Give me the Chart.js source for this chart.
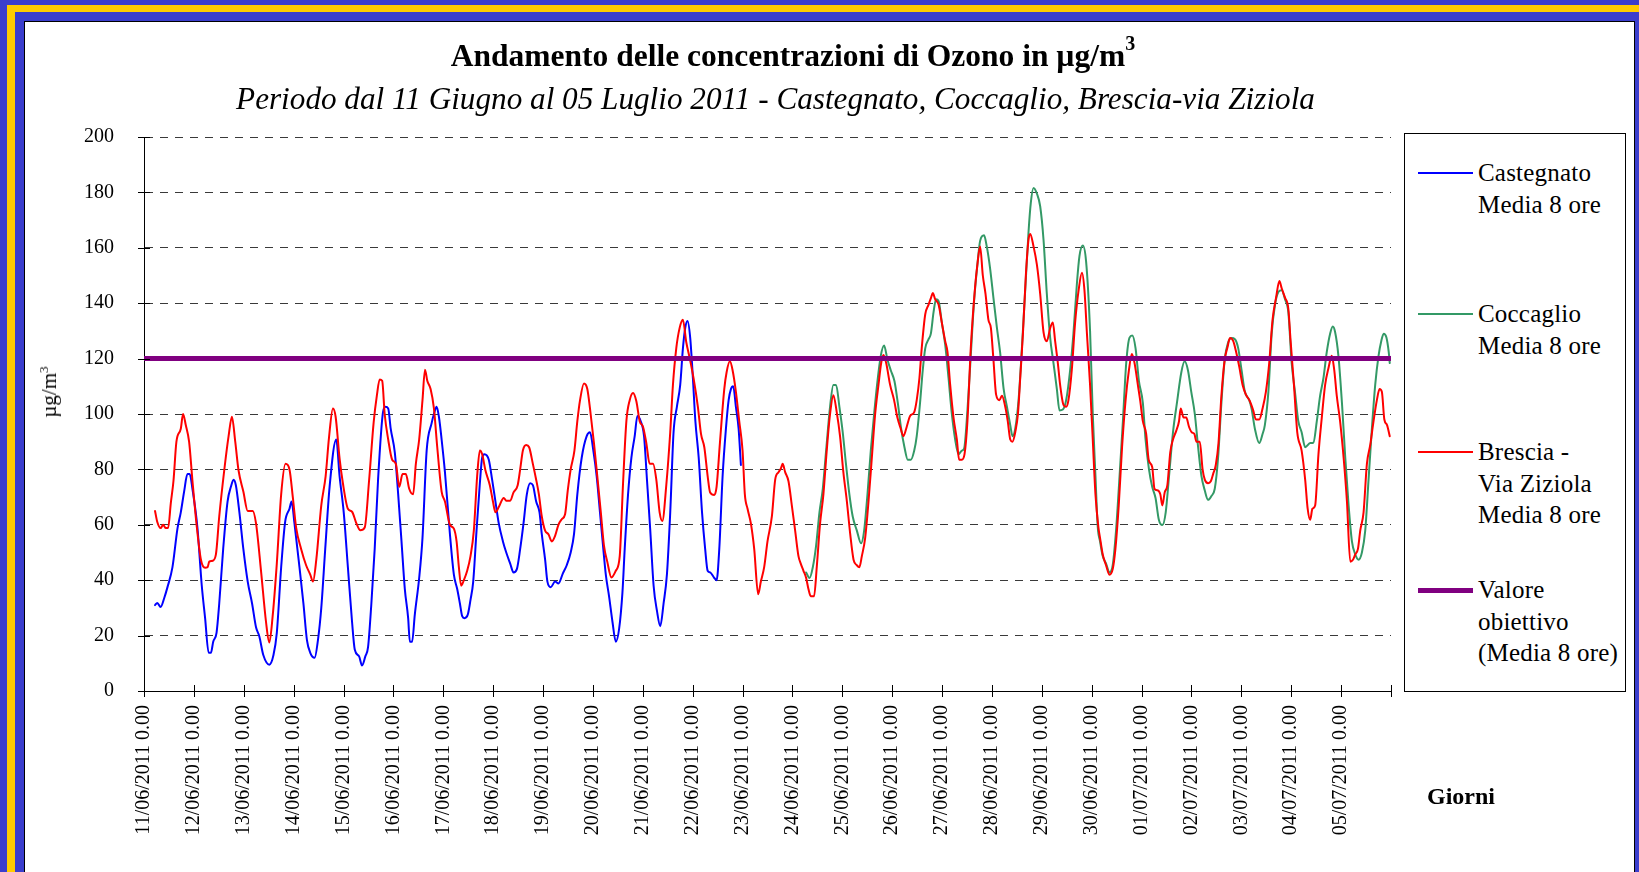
<!DOCTYPE html>
<html lang="it">
<head>
<meta charset="utf-8">
<title>Andamento delle concentrazioni di Ozono</title>
<script src="https://cdn.jsdelivr.net/npm/chart.js@4.4.1/dist/chart.umd.min.js"></script>
<style>
  html, body { margin: 0; padding: 0; }
  body {
    width: 1639px; height: 872px; overflow: hidden; position: relative;
    background: #3b3ecd;
    font-family: "Liberation Serif", "Times New Roman", serif;
    color: #000;
  }
  .cornice { position: absolute; left: 7px; top: 5px; width: 1700px; height: 900px; background: #ffcc00; }
  .cornice2 { position: absolute; left: 15px; top: 12px; width: 1700px; height: 900px; background: #3b3ecd; }
  .foglio { position: absolute; left: 24px; top: 21px; width: 1609px; height: 900px; background: #fff; border: 1px solid #000; }
  #grafico { position: absolute; left: 0; top: 0; }
  .titolo { position: absolute; left: 0; width: 1586px; top: 28px; text-align: center; font-size: 31.5px; font-weight: bold; line-height: 38px; white-space: nowrap; }
  .titolo sup { font-size: 20px; position: relative; top: -4px; }
  .sottotitolo { position: absolute; left: 0; width: 1551px; top: 81px; text-align: center; font-size: 31.2px; font-style: italic; line-height: 36px; white-space: nowrap; }
  .asseY { position: absolute; left: 49px; top: 392px; transform: translate(-50%, -50%) rotate(-90deg); font-size: 21px; white-space: nowrap; }
  .asseY sup { font-size: 13px; }
  .giorni { position: absolute; left: 1461px; top: 796px; transform: translate(-50%, -50%); font-size: 24px; font-weight: bold; }
  .legenda { position: absolute; left: 1404px; top: 133px; width: 220px; height: 557px; border: 1px solid #000; background: #fff; }
  .voce { position: absolute; left: 0; }
  .campione { position: absolute; left: 13px; width: 55px; }
  .testo { position: absolute; left: 73px; font-size: 25px; line-height: 31.3px; white-space: nowrap; letter-spacing: 0.2px; }
</style>
</head>
<body>
<div class="cornice"></div>
<div class="cornice2"></div>
<div class="foglio"></div>
<canvas id="grafico" width="1639" height="872"></canvas>
<div class="titolo">Andamento delle concentrazioni di Ozono in µg/m<sup>3</sup></div>
<div class="sottotitolo">Periodo dal 11 Giugno al 05 Luglio 2011 - Castegnato, Coccaglio, Brescia-via Ziziola</div>
<div class="asseY">µg/m<sup>3</sup></div>
<div class="giorni">Giorni</div>
<div class="legenda" id="legenda"></div>
<script>
// etichette dei giorni (una ogni 24 ore)
const etichetteGiorni = [
  '11/06/2011 0.00', '12/06/2011 0.00', '13/06/2011 0.00', '14/06/2011 0.00', '15/06/2011 0.00',
  '16/06/2011 0.00', '17/06/2011 0.00', '18/06/2011 0.00', '19/06/2011 0.00', '20/06/2011 0.00',
  '21/06/2011 0.00', '22/06/2011 0.00', '23/06/2011 0.00', '24/06/2011 0.00', '25/06/2011 0.00',
  '26/06/2011 0.00', '27/06/2011 0.00', '28/06/2011 0.00', '29/06/2011 0.00', '30/06/2011 0.00',
  '01/07/2011 0.00', '02/07/2011 0.00', '03/07/2011 0.00', '04/07/2011 0.00', '05/07/2011 0.00'
];
const oreTotali = 600;

// media 8 ore, coppie [ora dall'inizio, µg/m3]
const castegnato = [
  [5.3,31],[6.4,31.8],[8,30.3],[9.7,33.5],[11.3,37.5],[13.7,44.7],[16.1,58.6],[17.7,64.5],[19.3,72],[20.9,78.3],
  [22,78.3],[23.3,73],[25.7,59],[27.8,38],[29.4,26.3],[31.1,13.8],[32.2,13.8],[33.3,17.8],[34.9,21],[36.2,31.6],
  [38.1,51.3],[40.2,68.4],[41.8,73.7],[43.1,76.3],[44.2,74.3],[45.9,64.5],[47.8,51.3],[49.9,39.5],[52,31.6],[53.9,23],
  [55.5,19.7],[57.4,13],[60.3,9.5],[62.3,13],[63.9,21],[66,44.7],[67.9,61],[70,65.8],[71,68.4],[72.4,60.5],
  [74.8,44.7],[76.7,31.6],[78.4,18.4],[80,13.8],[82.1,12],[83.7,18.4],[85.3,30],[87.2,51.3],[89.3,73.7],[92.5,90.8],
  [94.1,77.6],[96.1,64.5],[98.1,44.7],[100.1,25],[101.4,15],[103.5,12.5],[104.9,9.2],[106.5,12.5],[107.8,15.8],[109.4,31.6],
  [111,51.3],[112.6,76],[115,100.7],[116.2,102.6],[117.5,102],[118.7,94.7],[120.7,86],[122.3,71],[123.9,54],[125.5,36.8],
  [127.1,26.3],[127.9,17.8],[129,17.8],[130.3,27.6],[132.4,40.8],[134,55.3],[136,86.8],[138.4,96.7],[139.5,100],[140.8,102.6],
  [141.9,99],[143.2,90.8],[144.8,79],[147.2,56.6],[149.1,42],[150.7,36.8],[152,31.6],[153.1,27],[154.2,26.3],[155.8,27.6],
  [157.1,32.9],[158.4,39.5],[160,57.9],[161.6,75],[162.7,84.2],[163.8,85.5],[165.9,83.5],[167.5,76.3],[169.1,68.4],[170.7,60.5],
  [172.7,54],[174.3,50],[176.2,46],[177.8,42.8],[179.4,44],[181,51.3],[182.6,60.5],[184.2,71],[185.8,75],[187.1,74.3],
  [188.7,68.4],[190.3,64.5],[191.4,56.6],[193,47.4],[194.1,39.5],[195.7,37.5],[197.8,39.5],[199.4,38.8],[201.5,42.4],[203.4,45.4],
  [205.3,50],[206.9,56.6],[208.5,71],[210.6,84.2],[213,92],[214.6,93.4],[216.2,86.8],[217.8,77.6],[219.4,64.5],[221,51.3],
  [222.2,42],[223.8,34],[225.4,25],[227,17.8],[228.6,22.4],[230.2,35.5],[231.3,51.3],[232.9,71],[234.5,84.2],[236.1,92],
  [237.4,99.3],[239,97.4],[240.6,92],[242,76.3],[243.6,57.9],[245.2,38],[246.8,29],[248.4,23.4],[250,31.6],[251.6,42],
  [253.2,64.5],[254.8,93.4],[256.4,102.6],[258,110.5],[259.3,123.7],[260.4,131],[261.5,133.6],[262.8,127.6],[264.1,113],[265.3,97.4],
  [266.9,84.2],[268.5,64.5],[270,51.3],[271.2,43.4],[272.4,42.8],[274.4,40.8],[275.5,40],[276.8,51.3],[278.4,77.6],[280,94.7],
  [281.3,105],[282.4,109],[283.5,110],[284.8,102.6],[286.1,94.7],[287.2,81.6]
];

const coccaglio = [
  [318.6,42.8],[320.2,40.8],[321.8,44.7],[323.4,52.6],[325,64.5],[326.6,73],[328.2,86.8],[330.1,102.6],[331.7,110.5],[333,110.5],
  [334.6,102.6],[336.2,93.4],[337.8,81.6],[339.4,71],[341,63],[343,57.9],[345,53.3],[346.5,57.9],[348.1,71],[349.7,86.8],
  [351.3,100],[352.9,111.8],[354.5,121],[356.1,124.7],[357.7,119.7],[359.3,115.8],[361.1,111.8],[362.7,104],[364.3,94.7],[365.9,88],
  [367.5,83.5],[369,83.5],[370.6,86.8],[371.8,92],[373.4,104],[374.7,115.8],[375.9,123.7],[377.5,127],[378.6,129],[379.9,136.8],
  [381.1,141.4],[382.3,140.8],[383.9,132.9],[385.5,125],[387.1,113],[388.7,100],[390.3,90.8],[391.9,85.5],[393.5,86.8],[394.6,87.5],
  [396.2,101.3],[397.8,121],[399.4,140.8],[401,154],[402.3,162.5],[404.2,164.5],[405.5,160.5],[407.1,152.6],[408.7,142],[410.3,131.6],
  [411.9,122.4],[413.6,109.2],[415.2,102.6],[416.8,96],[417.9,92],[419.2,94.7],[420.8,105],[422.4,123.7],[424,144.7],[425.6,165.8],
  [426.7,176.3],[428,181.6],[429.6,179.6],[431.2,175],[432.8,163],[434.4,143.4],[436,127.6],[437.6,118.4],[439.2,109.2],[440.5,101.3],
  [442.1,101.6],[443.7,105],[445.6,115.8],[447.2,129],[448.9,147.4],[450.1,157],[451.7,160.8],[453.3,155],[455.2,130],[456.5,100],
  [457.8,77.6],[458.9,59.2],[460,54],[461.3,48.7],[462.9,46],[464.5,42.8],[466.1,45.4],[467.7,57.9],[469.4,77.6],[471,97.4],
  [472.6,118.4],[474.2,127.6],[475.5,128.3],[477.1,123.7],[478.7,112],[480.6,104],[481.9,90.8],[483.5,80.3],[485.1,73.7],[486.7,69.7],
  [488.3,61.8],[490,59.9],[491.6,64.5],[493.2,77.6],[495.1,93.4],[497,104],[499.1,115],[500.7,119],[502.3,115.8],[503.9,108],
  [505.6,100],[507.2,88],[508.8,77.6],[510.4,72.4],[512,69],[513.6,70.4],[515.2,73],[516.8,84.2],[518.4,104],[520,119.7],
  [521.6,125.7],[523.3,127.4],[524.9,127],[526.5,123.7],[528.1,115.8],[529.7,108],[531.8,105],[532.9,102],[534.5,94.7],[536.6,89.5],
  [538.2,92.8],[539.3,96],[541,108],[542.6,129],[544.2,139.5],[545.8,144],[547.4,144.7],[549,141.4],[550.6,136.8],[552.2,118.4],
  [553.8,108],[555.4,97.4],[557,93.4],[558.7,88],[561.1,89.5],[562.7,89.7],[564.3,97.4],[565.9,106.6],[567.5,113],[569.1,122.4],
  [570.7,129],[572,131.6],[573.1,129.6],[574.7,121],[576.4,104],[578,84.2],[579.6,67],[581.2,54],[582.8,49.3],[584.4,47.4],
  [586,50],[587.6,57.9],[589.2,76.3],[590.8,94.7],[592.4,110.5],[594,121],[595.3,126.3],[596.5,129],[597.8,127.6],[598.9,122.4],
  [599.4,118.4]
];

const brescia = [
  [5.3,65],[6.4,61],[8,58.8],[9.2,60],[10.5,58.8],[11.6,58.8],[12.9,67.8],[14.2,76],[15.6,90],[17.7,94.7],
  [18.8,100],[20.1,96],[21.7,90],[23.3,76],[25.3,60],[27.4,47.4],[29.4,44.5],[30.6,44.7],[31.4,46.7],[33,47],
  [34.6,49.3],[36.2,63],[38.6,79.6],[40.7,92],[42.3,99],[43.9,90],[45.5,79.6],[47.8,72],[49.9,65],[52.3,65],
  [53.9,60.5],[56.3,43.4],[58.7,25],[60.3,17.5],[61.9,27],[63.9,46],[66,71],[68.1,82],[70,80],[71.6,70],
  [73.2,59],[75.6,51.3],[78,45.4],[80,42],[81.3,39.5],[82.9,47.4],[85.3,67],[87.4,77.6],[89,91.4],[90.9,102],
  [92.2,99],[94.1,84],[95.7,75],[98.1,65.8],[100.1,64.7],[102.2,60.5],[104.1,58],[106.2,59],[108.3,76],[110.5,97],
  [112.1,107],[113.4,112.5],[114.6,112],[115.8,100],[117.5,90.8],[119.4,83.5],[121.2,82],[122.8,73.7],[124.4,78.3],[126,78.3],
  [127.6,73],[129.5,71],[130.8,82],[132.4,90.8],[134,105],[135.2,116],[136.3,112],[137.9,109],[139.5,102],[141.1,88],
  [143.2,72],[144.8,68.4],[147.2,60],[149.1,58.6],[150.4,54],[151.5,44.7],[152.6,38],[153.9,40],[155.5,43.4],[157.1,48.7],
  [158.7,57.9],[160.3,77.6],[161.6,86.8],[162.7,85.5],[164.3,79.6],[166.4,74.3],[167.9,68.4],[169.1,64.5],[170.7,66.4],[173.1,69.7],
  [174.3,68.7],[176.2,68.7],[177.8,71.7],[179.8,74.3],[181,80],[182.3,86.8],[183.9,88.8],[185.3,88],[187.1,82],[188.5,77],
  [190,71],[191.4,63],[193,57.9],[194.6,56.6],[196.2,54],[197.8,56],[199.4,60],[201,62],[202.6,63.8],[203.9,72.4],
  [205.3,80],[207.1,86.8],[208.5,97.4],[209.8,105],[211.7,111],[213.3,109],[214.9,100],[216.5,89.5],[218.1,77.6],[219.8,64.5],
  [221.3,52.6],[222.9,46.7],[224.9,41],[227,43.4],[228.9,48.7],[230.5,75],[232.1,97.4],[233.7,105],[235.3,107.6],[236.9,104.6],
  [238.5,97.4],[240.1,95.4],[241.7,89.5],[243.3,82],[244.9,82],[246.5,76.3],[248.1,64.5],[249.4,61.4],[251.3,74.3],[253.2,93.4],
  [254.5,110.5],[256.1,123.7],[257.7,131],[259.3,134],[260.9,126],[262.5,120.4],[264.4,113],[266.5,102.6],[268,92.8],[269.6,88],
  [271.2,77.6],[272.4,71.7],[274.4,70.8],[275.5,73.7],[277.1,89.5],[279.2,109],[280.3,115],[281.9,119],[283.2,115.8],[284.8,108],
  [286.4,97.4],[288,86.8],[289.1,71],[290.4,65.8],[292,60.5],[293.6,51.3],[295.5,34.9],[296.8,39.5],[298.4,44.7],[300,54],
  [302.1,63],[303.7,76.3],[305.3,79],[306.4,80.3],[307.3,82],[308.5,79],[310.1,75.7],[311.7,67],[313.3,57.9],[314.9,48.7],
  [316,46],[317.3,43.4],[318.6,40.8],[319.7,36.8],[320.8,34.2],[322.4,34.2],[323.7,44.7],[325.3,60.5],[326.9,71],[328.5,86.8],
  [330.1,100],[331.7,106.8],[333.3,100.7],[334.9,92],[336.5,79],[338.2,68.4],[339.8,56.6],[341.4,47.4],[343,45.4],[344.2,44.7],
  [345.4,48.7],[347,55.3],[348.6,68.4],[350.2,84.2],[351.8,100],[353.4,110.5],[354.7,118.4],[355.8,121.3],[357.1,118.4],[359,110.5],
  [360.9,105],[362.5,98.7],[364.1,94.7],[365.4,92],[367,95.4],[368.6,99.3],[370.6,100.7],[371.8,105],[373.1,113],[374.2,123.7],
  [375.9,136],[377.5,139.5],[378.7,142],[379.5,143.7],[380.7,141.4],[382.3,139.5],[383.9,132.9],[385.5,126.3],[386.6,122.4],[387.9,110.5],
  [389.5,98.7],[391.1,90.8],[392.2,83.5],[393.5,83.5],[394.8,85.5],[396.2,97.4],[397.8,123.7],[399.9,146],[401,154],[402.3,160.5],
  [403.6,150],[404.9,143.4],[406.3,134],[407.5,131],[408.7,119.7],[410,107],[411.6,105],[412.8,106.6],[414.4,102.6],[415.6,97.4],
  [416.8,90.8],[417.9,90],[419.2,93.4],[420.5,100],[421.6,113],[422.9,129],[424.3,150],[425.6,163],[426.4,165],[428,160.5],
  [429.6,154],[431.2,143.4],[432.8,129.6],[434.4,126.3],[436,131],[437.3,133],[438.4,126.3],[439.7,118.4],[440.8,110.5],[442.4,103.3],
  [443.7,102.6],[444.8,105],[446.4,115.8],[448,132.9],[449.7,144.7],[451.3,151],[452.5,144.7],[453.7,129],[455.2,110.5],[456.5,90.8],
  [457.8,71],[459.2,59.2],[460,55.3],[461.3,49.3],[462.9,45.4],[464.5,42],[466.1,44],[467.4,51.3],[469,67],[470.6,88],
  [472.3,105],[473.9,115.8],[475.3,121.7],[476.6,118.4],[478.2,110.5],[479.3,105],[480.6,97.4],[482.2,92.8],[483.4,83.5],[485.1,80.9],
  [486.2,73],[487.9,72.4],[489,71],[490,67],[491.1,71.7],[492.4,74.3],[493.8,86.2],[495.1,90.8],[496.7,94],[498,97.4],
  [498.8,102],[500.2,98.7],[501.5,98.7],[502.8,95.4],[504.1,93.4],[505.4,92.8],[506.4,90],[508,90],[509.3,80.3],[510.4,76.3],
  [512,75],[513.3,75.7],[514.4,78.3],[515.7,81.6],[517,89.5],[518.4,106.6],[520,119.7],[521.3,124],[522.5,127.4],[524.1,126.3],
  [525.3,123],[527,117],[528.6,110.5],[530.2,107],[532.1,104.6],[533.7,101.3],[535,98],[536.6,98],[538.2,102],[539.8,108],
  [541.4,118.4],[543,134],[544.7,142],[546.3,148],[547.4,145.4],[549,142],[550.6,138],[551.7,126.3],[553.3,110.5],[554.9,93.4],
  [557,86.8],[558.7,76.3],[559.9,65.8],[561.1,61.8],[562.2,65.8],[563.5,67],[565.1,85.5],[566.7,98.7],[568.3,110.5],[569.9,116.5],
  [571.5,121],[572.7,115.8],[573.9,106.6],[575.5,97.4],[577.2,84.2],[578.8,68.4],[580.4,46.7],[581.7,47.4],[582.8,49.3],[584.1,51.3],
  [585.2,57.9],[586.8,64.5],[588.4,82],[590,88.8],[591.6,97.4],[593.2,105],[594.5,109],[595.6,108],[596.8,98],[598.1,96],
  [599.4,92]
];

const valoreObiettivo = 120;

const legendaVoci = [
  { righe: ['Castegnato', 'Media 8 ore'], colore: '#0000ff', spessore: 2, centro: 39 },
  { righe: ['Coccaglio', 'Media 8 ore'], colore: '#339966', spessore: 2, centro: 180 },
  { righe: ['Brescia -', 'Via Ziziola', 'Media 8 ore'], colore: '#ff0000', spessore: 2, centro: 318 },
  { righe: ['Valore', 'obiettivo', '(Media 8 ore)'], colore: '#800080', spessore: 5, centro: 456 }
];

// legenda in html
const boxLegenda = document.getElementById('legenda');
legendaVoci.forEach(v => {
  const camp = document.createElement('div');
  camp.className = 'campione';
  camp.style.top = (v.centro - v.spessore / 2) + 'px';
  camp.style.height = v.spessore + 'px';
  camp.style.background = v.colore;
  boxLegenda.appendChild(camp);
  const t = document.createElement('div');
  t.className = 'testo';
  t.style.top = (v.centro - 15.65) + 'px';
  t.innerHTML = v.righe.join('<br>');
  boxLegenda.appendChild(t);
});

const aPunti = serie => serie.map(([ora, val]) => ({ x: ora, y: val }));

// tacche che attraversano gli assi, come in Excel
const taccheIncrociate = {
  id: 'taccheIncrociate',
  afterDraw(chart) {
    const { ctx, chartArea, scales } = chart;
    ctx.save();
    ctx.strokeStyle = '#000';
    ctx.lineWidth = 1;
    ctx.beginPath();
    scales.x.ticks.forEach(t => {
      const px = Math.round(scales.x.getPixelForValue(t.value)) + 0.5;
      ctx.moveTo(px, chartArea.bottom - 6);
      ctx.lineTo(px, chartArea.bottom + 6);
    });
    scales.y.ticks.forEach(t => {
      const py = Math.round(scales.y.getPixelForValue(t.value)) + 0.5;
      ctx.moveTo(chartArea.left - 6, py);
      ctx.lineTo(chartArea.left + 6, py);
    });
    ctx.stroke();
    ctx.restore();
  }
};

const fontAssi = { family: '"Liberation Serif", "Times New Roman", serif', size: 20 };

new Chart(document.getElementById('grafico'), {
  type: 'line',
  data: {
    datasets: [
      { label: 'Castegnato Media 8 ore', data: aPunti(castegnato), borderColor: '#0000ff', borderWidth: 2, order: 3 },
      { label: 'Coccaglio Media 8 ore', data: aPunti(coccaglio), borderColor: '#339966', borderWidth: 2, order: 2 },
      { label: 'Brescia - Via Ziziola Media 8 ore', data: aPunti(brescia), borderColor: '#ff0000', borderWidth: 2, order: 1 },
      { label: 'Valore obiettivo (Media 8 ore)', data: [{ x: 0, y: valoreObiettivo }, { x: oreTotali, y: valoreObiettivo }],
        borderColor: '#800080', borderWidth: 5, order: 0 }
    ]
  },
  options: {
    responsive: false,
    devicePixelRatio: 1,
    animation: false,
    events: [],
    elements: {
      point: { radius: 0 },
      line: { tension: 0, cubicInterpolationMode: 'monotone', borderJoinStyle: 'round', borderCapStyle: 'round', fill: false }
    },
    layout: { padding: { left: 0, top: 137, right: 248, bottom: 0 } },
    plugins: { legend: { display: false }, tooltip: { enabled: false }, title: { display: false } },
    scales: {
      x: {
        type: 'linear', min: 0, max: oreTotali,
        afterFit: s => { s.height = 181; },
        afterBuildTicks: s => { s.ticks = etichetteGiorni.map((_, i) => ({ value: i * 24 })).concat([{ value: oreTotali }]); },
        ticks: {
          autoSkip: false, maxRotation: 90, minRotation: 90, padding: 14,
          color: '#000', font: fontAssi,
          callback: v => etichetteGiorni[v / 24] || ''
        },
        grid: { display: false, drawTicks: false },
        border: { display: true, color: '#000', width: 1 }
      },
      y: {
        min: 0, max: 200,
        afterFit: s => { s.width = 144; },
        ticks: { stepSize: 20, padding: 30, color: '#000', font: fontAssi },
        grid: {
          drawTicks: false, lineWidth: 1,
          color: c => c.tick && c.tick.value === 0 ? 'rgba(0,0,0,0)' : '#3a3a3a'
        },
        border: { display: true, color: '#000', width: 1, dash: [8, 7] }
      }
    }
  },
  plugins: [taccheIncrociate]
});
</script>
</body>
</html>
